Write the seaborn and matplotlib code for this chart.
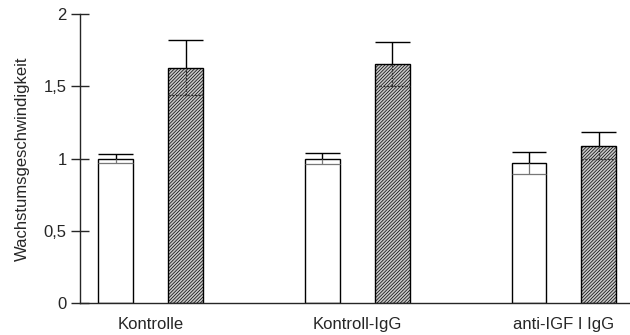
import matplotlib
matplotlib.use('Agg')
import matplotlib.pyplot as plt
import pandas as pd
import seaborn as sns

gruppen = ['Kontrolle', 'Kontroll-IgG', 'anti-IGF I IgG']
serien = ['Serie 1', 'Serie 2']
mittel_1 = [1.00, 1.00, 0.97]
sd_1 = [0.03, 0.04, 0.076]
mittel_2 = [1.63, 1.655, 1.09]
sd_2 = [0.19, 0.154, 0.095]
y_ticks = [0, 0.5, 1, 1.5, 2]
y_labels = ['0', '0,5', '1', '1,5', '2']

df = pd.DataFrame({
    'gruppe': gruppen * 2,
    'serie': [serien[0]] * 3 + [serien[1]] * 3,
    'wert': mittel_1 + mittel_2,
    'sd': sd_1 + sd_2,
})

sns.set_style('ticks')
plt.rcParams['font.family'] = ['Liberation Sans', 'DejaVu Sans']
plt.rcParams['hatch.linewidth'] = 0.5
plt.rcParams['hatch.color'] = '#222222'

fig = plt.figure(figsize=(6.3, 3.35), dpi=100)
ax = fig.add_axes([0.127, 0.0955, 0.873, 0.8625])

sns.barplot(data=df, x='gruppe', y='wert', hue='serie', order=gruppen,
            hue_order=serien, width=0.676, gap=0.5, errorbar=None,
            palette=['white', '#c8c8c8'], edgecolor='black', linewidth=1,
            legend=False, ax=ax)

# Balken der zweiten Serie schraffieren, Fehlerbalken von Hand
patches = [p for p in ax.patches if p.get_height() > 0]
for i, p in enumerate(patches):
    serie = i // 3
    m = df['wert'].iloc[i]
    s = df['sd'].iloc[i]
    x0 = p.get_x()
    x1 = x0 + p.get_width()
    xc = x0 + p.get_width() / 2
    if serie == 1:
        p.set_hatch('//////////')
        p.set_edgecolor('black')
        innen = dict(color='#333333', linestyle=(0, (2, 1)), lw=0.9)
    else:
        innen = dict(color='#777777', linestyle='-', lw=0.9)
    ax.vlines(xc, m, m + s, color='black', lw=1, zorder=5)
    ax.hlines(m + s, x0, x1, color='black', lw=1, zorder=5)
    ax.vlines(xc, m - s, m, zorder=5, **innen)
    ax.hlines(m - s, x0, x1, zorder=5, **innen)

ax.set_xlim(-0.343, 2.32)
ax.set_ylim(0, 2)
ax.set_yticks(y_ticks)
ax.set_yticklabels(y_labels, fontsize=12)
ax.tick_params(axis='y', direction='inout', length=13, width=1, pad=3)
ax.tick_params(axis='x', length=0, labelsize=12, pad=10)
ax.set_xlabel('')
ax.set_ylabel('Wachstumsgeschwindigkeit', fontsize=12, labelpad=10)
sns.despine(ax=ax)
ax.spines['left'].set_linewidth(1)
ax.spines['bottom'].set_linewidth(1)

fig.savefig('out.png', dpi=100)
